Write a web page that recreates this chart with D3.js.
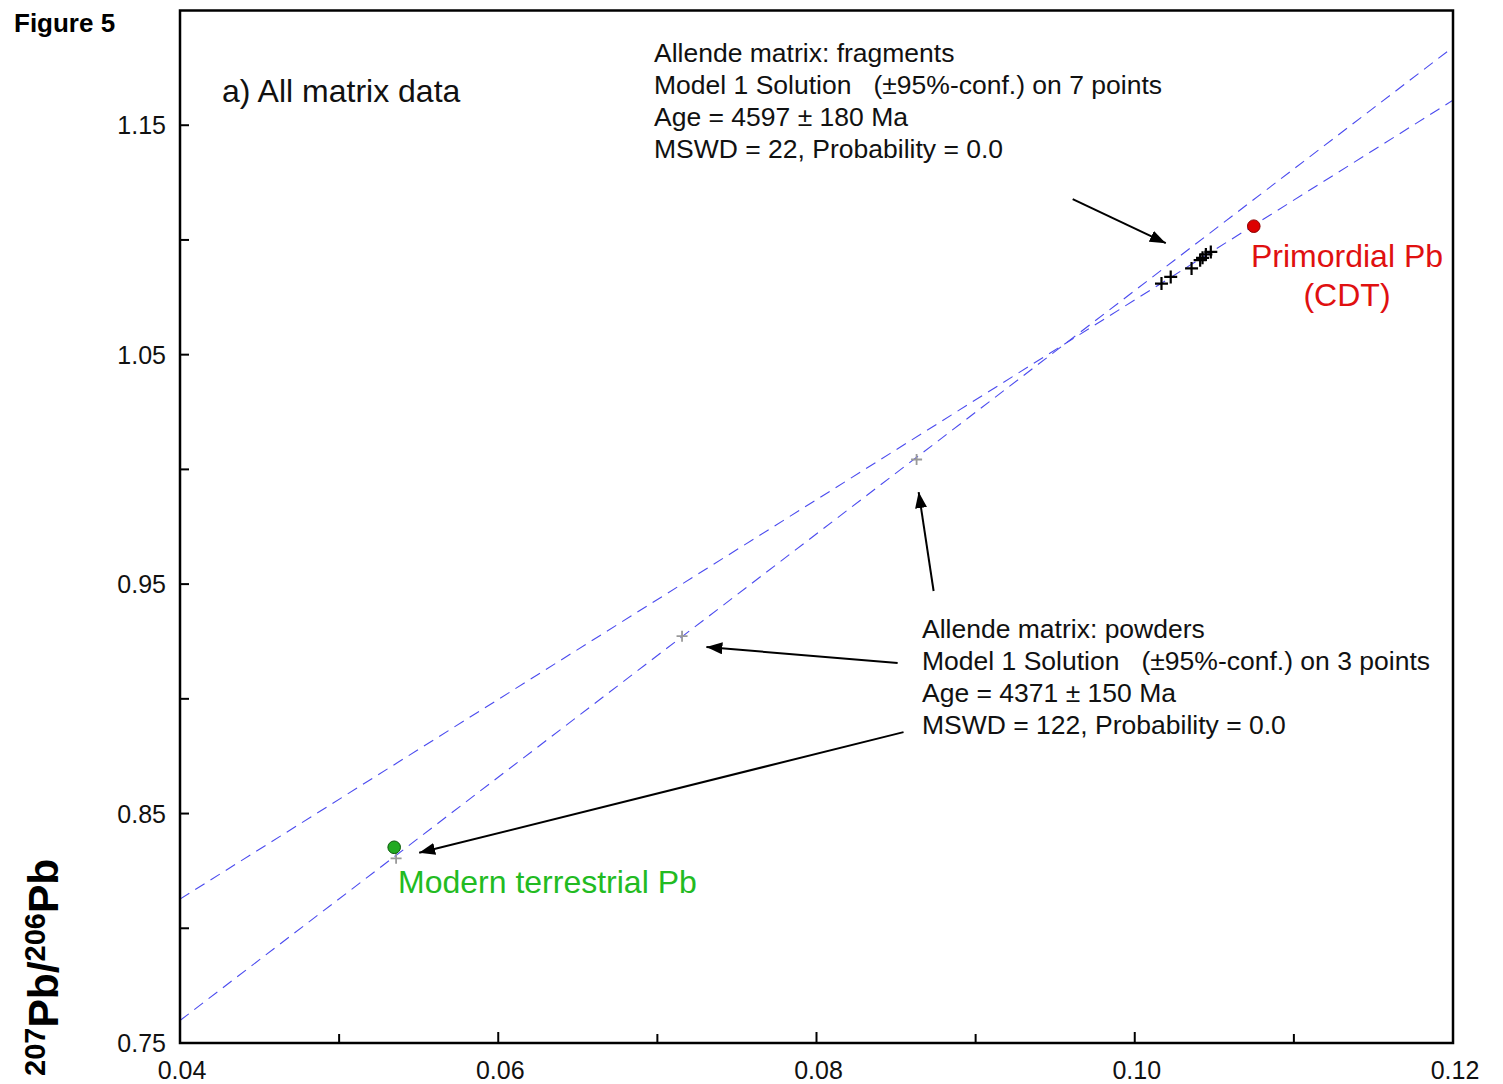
<!DOCTYPE html>
<html>
<head>
<meta charset="utf-8">
<script src="https://cdn.jsdelivr.net/npm/d3@7"></script>
<style>
  html, body { margin: 0; padding: 0; background: #fff; }
  svg { display: block; font-family: "Liberation Sans", Arial, sans-serif; }
</style>
</head>
<body>
<svg id="chart" width="1503" height="1084"></svg>
<script>
// 204Pb/206Pb (x) vs 207Pb/206Pb (y) for Allende matrix lead

// Fragment analyses (7 points)
const fragX = [0.10168, 0.10226, 0.10357, 0.10411, 0.10426, 0.10447, 0.10478];
const fragY = [1.0810, 1.0839, 1.0876, 1.0912, 1.0922, 1.0937, 1.0948];

// Powder analyses (3 points)
const powderX = [0.05358, 0.07155, 0.08629];
const powderY = [0.8305, 0.9273, 1.0043];

// Reference lead compositions
const primordialPb = [0.10748, 1.1060];
const modernPb = [0.05346, 0.8353];

// Isochron fits, given as values at the x-domain ends
const fitX = [0.04, 0.12];
const fragFitY = [0.8127, 1.1609];
const powderFitY = [0.7598, 1.1840];

// Axis ticks
const xTicks = [0.04, 0.05, 0.06, 0.07, 0.08, 0.09, 0.10, 0.11, 0.12];
const xTickLabels = ["0.04", "", "0.06", "", "0.08", "", "0.10", "", "0.12"];
const yTicks = [0.75, 0.80, 0.85, 0.90, 0.95, 1.00, 1.05, 1.10, 1.15];
const yTickLabels = ["0.75", "", "0.85", "", "0.95", "", "1.05", "", "1.15"];

// Annotation text
const fragText = [
  "Allende matrix: fragments",
  "Model 1 Solution   (\u00B195%-conf.) on 7 points",
  "Age = 4597 \u00B1 180 Ma",
  "MSWD = 22, Probability = 0.0"
];
const powderText = [
  "Allende matrix: powders",
  "Model 1 Solution   (\u00B195%-conf.) on 3 points",
  "Age = 4371 \u00B1 150 Ma",
  "MSWD = 122, Probability = 0.0"
];

// Pointer arrows in data units: [fromX, fromY, toX, toY]
const arrows = [
  [0.0961, 1.1178, 0.10195, 1.0986],
  [0.08736, 0.9470, 0.08642, 0.9901],
  [0.0851, 0.9156, 0.07308, 0.9226],
  [0.08547, 0.8855, 0.05503, 0.8329]
];

const svg = d3.select("#chart");
const pLeft = 180, pRight = 1453, pTop = 10.5, pBottom = 1043;

const x = d3.scaleLinear().domain([0.04, 0.12]).range([pLeft, pRight]);
const y = d3.scaleLinear().domain([0.75, 1.20]).range([pBottom, pTop]);

const defs = svg.append("defs");
// arrowhead marker
defs.append("marker")
  .attr("id", "head")
  .attr("viewBox", "0 0 16 12")
  .attr("refX", 16).attr("refY", 6)
  .attr("markerWidth", 16).attr("markerHeight", 12)
  .attr("markerUnits", "userSpaceOnUse")
  .attr("orient", "auto")
  .append("path").attr("d", "M0,0 L16,6 L0,12 Z").attr("fill", "#000");

defs.append("clipPath").attr("id", "plotclip")
  .append("rect").attr("x", pLeft).attr("y", pTop)
  .attr("width", pRight - pLeft).attr("height", pBottom - pTop);

// isochron lines
const plot = svg.append("g").attr("clip-path", "url(#plotclip)");
const line = d3.line().x(d => x(d[0])).y(d => y(d[1]));
[fragFitY, powderFitY].forEach(fy => {
  plot.append("path")
    .datum(fitX.map((v, i) => [v, fy[i]]))
    .attr("d", line)
    .attr("fill", "none")
    .attr("stroke", "#4b4bef")
    .attr("stroke-width", 1.1)
    .attr("stroke-dasharray", "11,7");
});

// frame
svg.append("rect")
  .attr("x", pLeft).attr("y", pTop)
  .attr("width", pRight - pLeft).attr("height", pBottom - pTop)
  .attr("fill", "none").attr("stroke", "#000").attr("stroke-width", 2.5);

// x axis ticks (inward) and labels
const xAxis = svg.append("g");
xAxis.selectAll("line").data(xTicks).join("line")
  .attr("x1", d => x(d)).attr("x2", d => x(d))
  .attr("y1", pBottom).attr("y2", (d, i) => pBottom - (xTickLabels[i] ? 11 : 9))
  .attr("stroke", "#000").attr("stroke-width", 2);
xAxis.selectAll("text").data(xTicks).join("text")
  .attr("x", d => x(d) + 2).attr("y", 1079)
  .attr("text-anchor", "middle")
  .attr("font-size", 25).attr("fill", "#111")
  .text((d, i) => xTickLabels[i]);

// y axis ticks (inward) and labels
const yAxis = svg.append("g");
yAxis.selectAll("line").data(yTicks).join("line")
  .attr("x1", pLeft).attr("x2", pLeft + 9)
  .attr("y1", d => y(d)).attr("y2", d => y(d))
  .attr("stroke", "#000").attr("stroke-width", 2);
yAxis.selectAll("text").data(yTicks).join("text")
  .attr("x", 166).attr("y", d => y(d) + 9)
  .attr("text-anchor", "end")
  .attr("font-size", 25).attr("fill", "#111")
  .text((d, i) => yTickLabels[i]);

// y axis title: 207Pb/206Pb
const yt = svg.append("text")
  .attr("transform", "translate(58,1076) rotate(-90)")
  .attr("font-weight", "bold").attr("font-size", 42.5).attr("fill", "#000");
yt.append("tspan").attr("font-size", 29).attr("dy", -13).text("207");
yt.append("tspan").attr("dy", 13).text("Pb/");
yt.append("tspan").attr("font-size", 29).attr("dy", -13).text("206");
yt.append("tspan").attr("dy", 13).text("Pb");

// arrows
svg.append("g").selectAll("line").data(arrows).join("line")
  .attr("x1", d => x(d[0])).attr("y1", d => y(d[1]))
  .attr("x2", d => x(d[2])).attr("y2", d => y(d[3]))
  .attr("stroke", "#000").attr("stroke-width", 2)
  .attr("marker-end", "url(#head)");

// crosses
function crosses(g, xs, ys, size, color, width) {
  g.selectAll("path").data(xs.map((v, i) => [v, ys[i]])).join("path")
    .attr("d", d => {
      const cx = x(d[0]), cy = y(d[1]);
      return `M${cx - size},${cy}H${cx + size}M${cx},${cy - size}V${cy + size}`;
    })
    .attr("stroke", color).attr("stroke-width", width).attr("fill", "none");
}
crosses(svg.append("g"), powderX, powderY, 5.5, "#999", 1.8);
crosses(svg.append("g"), fragX, fragY, 6.5, "#000", 2.2);

// reference lead points
svg.append("circle")
  .attr("cx", x(primordialPb[0])).attr("cy", y(primordialPb[1])).attr("r", 6.3)
  .attr("fill", "#dd0000").attr("stroke", "#8b0000").attr("stroke-width", 1);
svg.append("circle")
  .attr("cx", x(modernPb[0])).attr("cy", y(modernPb[1])).attr("r", 6.3)
  .attr("fill", "#22aa22").attr("stroke", "#0d5a0d").attr("stroke-width", 1);

// labels
svg.append("text").attr("x", 14).attr("y", 32)
  .attr("font-size", 26).attr("font-weight", "bold").text("Figure 5");

svg.append("text").attr("x", 222).attr("y", 102)
  .attr("font-size", 32).attr("fill", "#111").text("a) All matrix data");

function block(lines, x0, y0) {
  svg.append("g").selectAll("text").data(lines).join("text")
    .attr("x", x0).attr("y", (d, i) => y0 + i * 32)
    .attr("font-size", 26.5).attr("fill", "#111")
    .style("white-space", "pre")
    .text(d => d);
}
block(fragText, 654, 62);
block(powderText, 922, 638);

svg.append("text").attr("x", 1347).attr("y", 267)
  .attr("text-anchor", "middle")
  .attr("font-size", 32).attr("fill", "#e01010").text("Primordial Pb");
svg.append("text").attr("x", 1347).attr("y", 306)
  .attr("text-anchor", "middle")
  .attr("font-size", 32).attr("fill", "#e01010").text("(CDT)");

svg.append("text").attr("x", 398).attr("y", 893)
  .attr("font-size", 32).attr("fill", "#22bb22").text("Modern terrestrial Pb");
</script>
</body>
</html>
